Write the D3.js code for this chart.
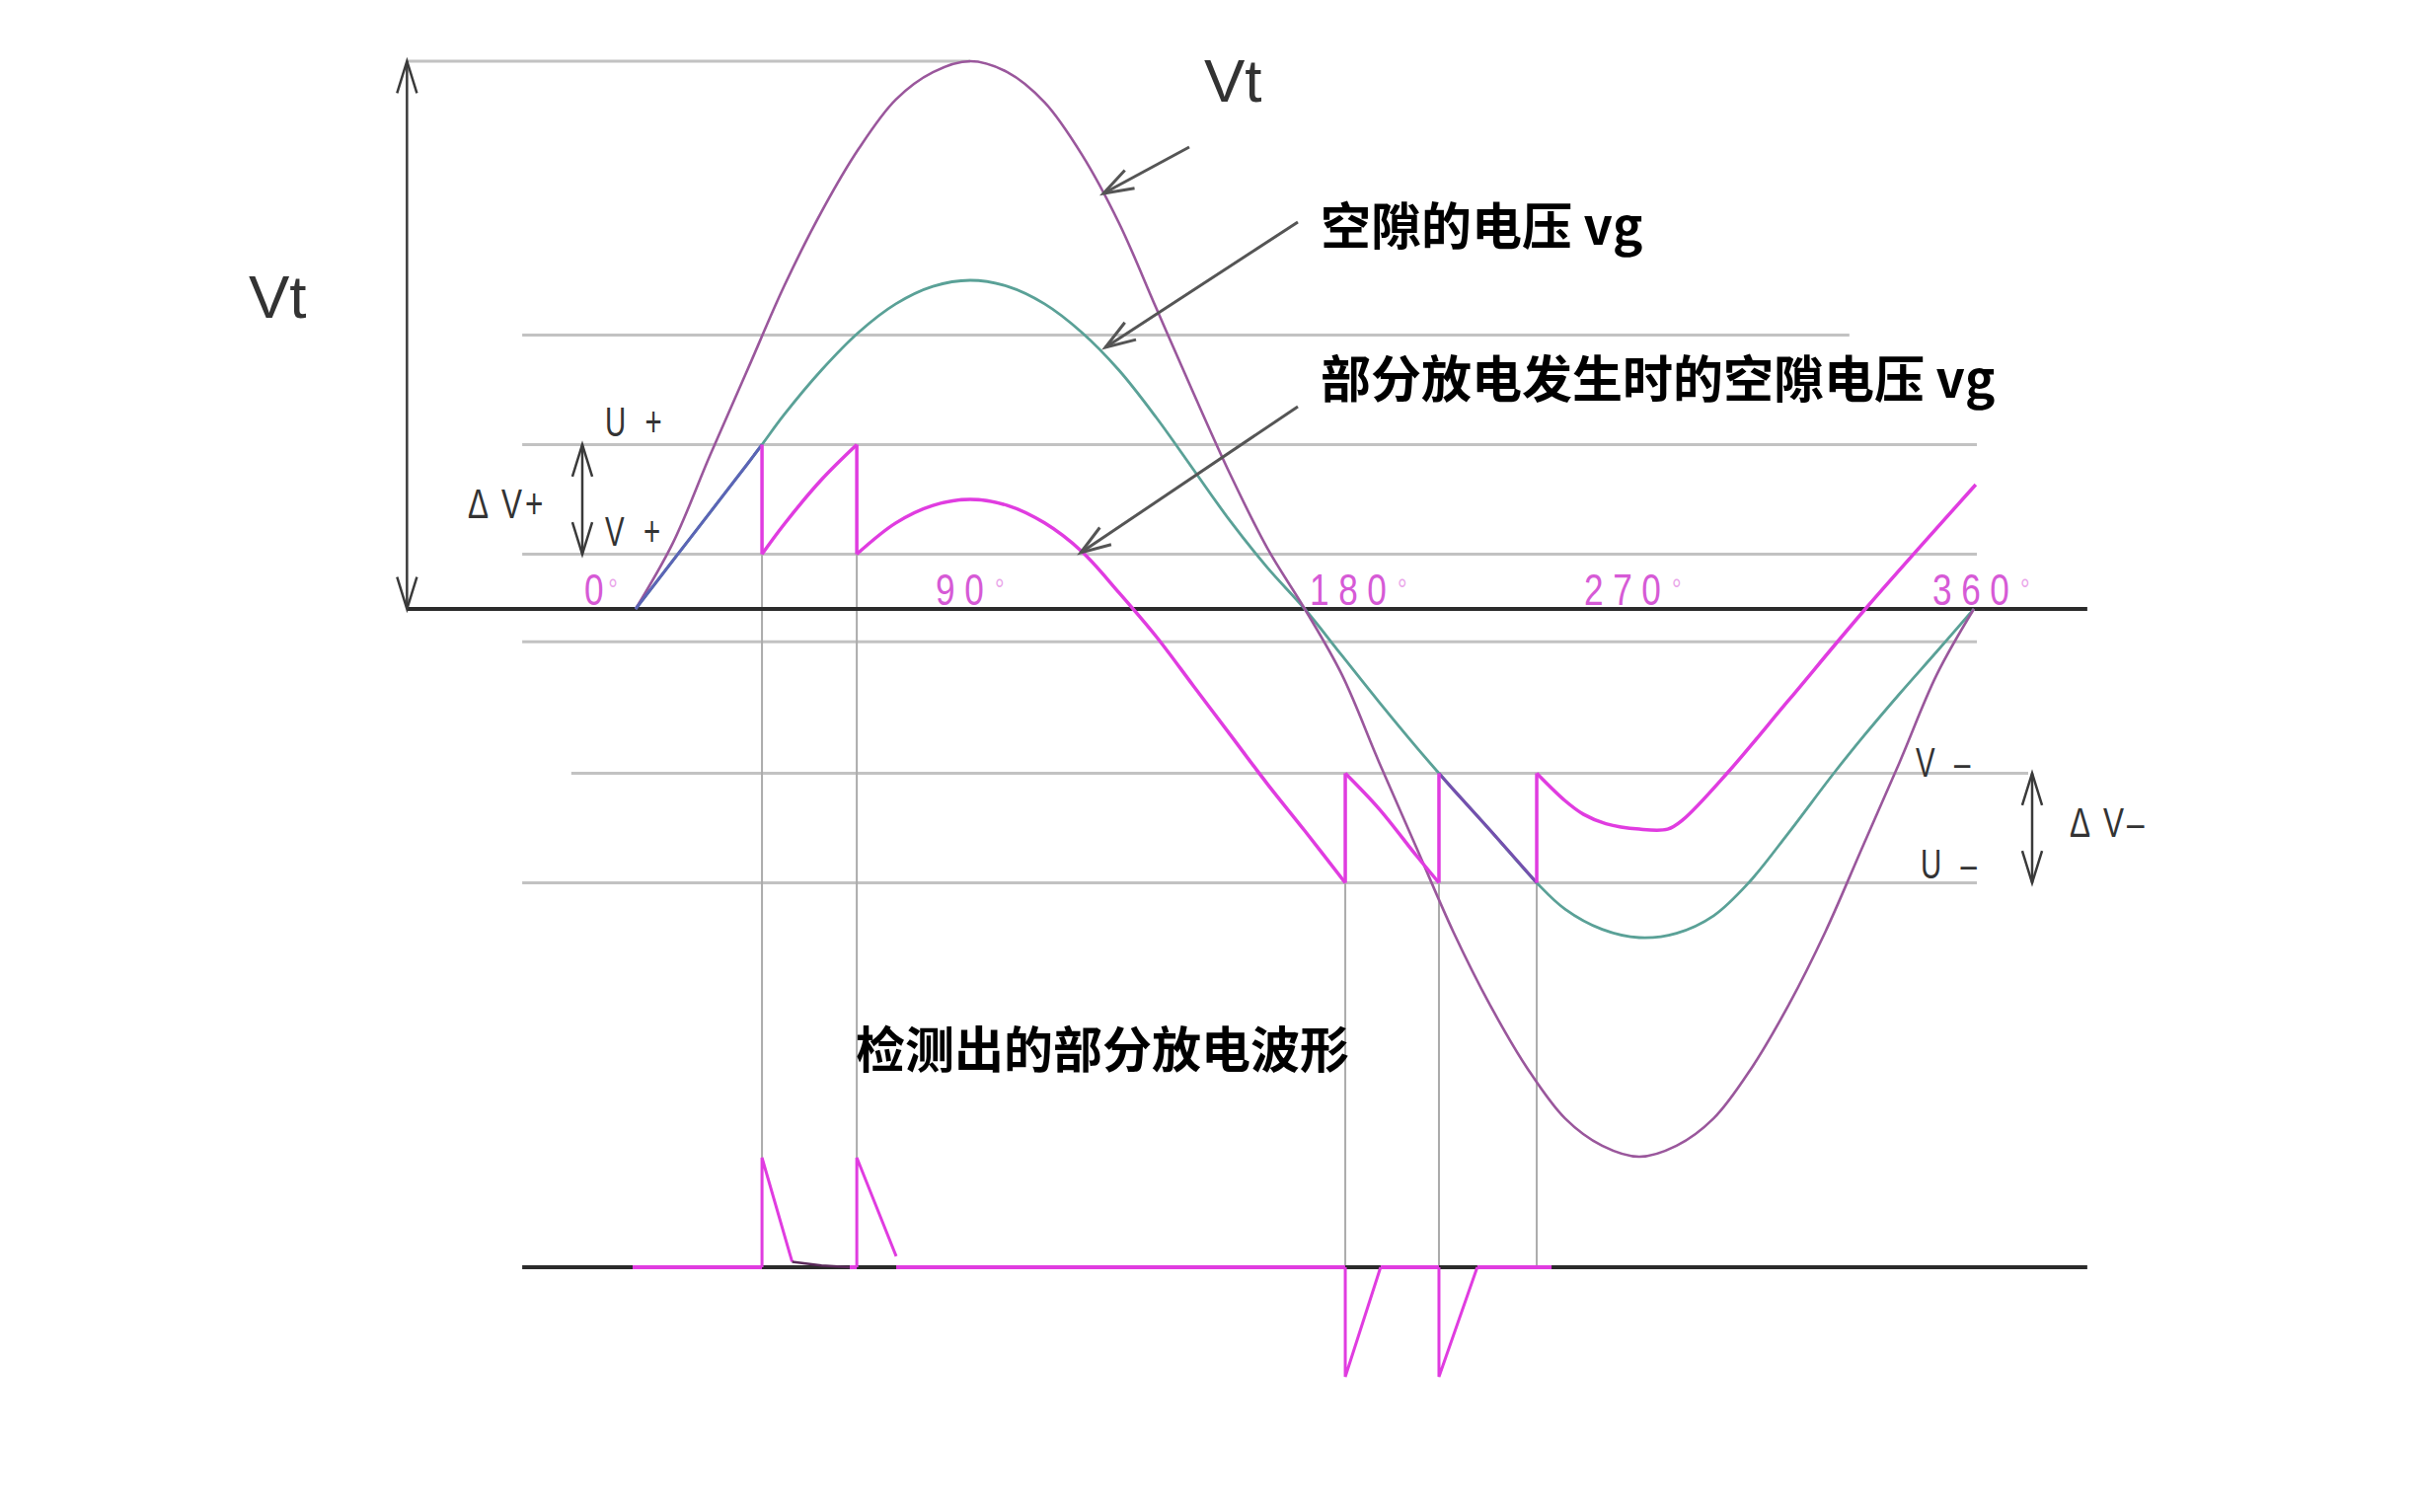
<!DOCTYPE html>
<html><head><meta charset="utf-8">
<script src="https://cdn.jsdelivr.net/npm/d3@7"></script>
<style>html,body{margin:0;padding:0;background:#fff;} svg{display:block}</style>
</head><body>
<svg id="chart" width="2453" height="1532"></svg>
<script>
// ---------------- DATA ----------------
const phaseTicks = [0, 90, 180, 270, 360];
const phaseTickLabels = ["0", "90", "180", "270", "360"];

// reference levels (units: Vt peak = 10)
const levelValues = [5, 3, 1, -0.6, -3, -5];
const Uplus = 3, Vplus = 1, Vminus = -3, Uminus = -5;

// applied voltage Vt
const vtDeg = [0,10,20,30,40,50,60,70,80,90,100,110,120,130,140,150,160,170,180,
               190,200,210,220,230,240,250,260,270,280,290,300,310,320,330,340,350,360];
const vtVal = [0,1.2,2.8,4.35,5.9,7.25,8.4,9.3,9.8,10,9.8,9.25,8.3,7.05,5.5,3.95,2.45,1.1,0,
               -1.2,-2.8,-4.35,-5.9,-7.25,-8.4,-9.3,-9.8,-10,-9.8,-9.3,-8.4,-7.25,-5.9,-4.35,-2.8,-1.2,0];

// gap voltage vg without discharge
const vgDeg = [0,10,20,30,34,40,50,60,70,80,90,100,110,120,130,140,150,160,170,180,
               190,200,210,216.1,220,230,242.4,250,260,270,280,290,299.4,310,322.3,330,340,350,360];
const vgVal = [0,0.88,1.76,2.64,3.0,3.55,4.36,5.05,5.57,5.89,6.0,5.89,5.57,5.05,4.36,3.5,2.55,1.6,0.75,0,
               -0.85,-1.7,-2.52,-3.0,-3.3,-4.05,-5.0,-5.48,-5.85,-6.0,-5.92,-5.6,-5.0,-4.1,-3.0,-2.35,-1.55,-0.78,0];

// gap voltage with partial discharges (segments between discharges)
const pdSeg1 = [[0,0],[10,0.88],[20,1.76],[30,2.64],[34,3.0]];
const pdSeg2 = [[34,1.0],[40,1.55],[50,2.36],[59.5,3.0]];
const pdSeg3 = [[59.5,1.0],[70,1.57],[80,1.89],[90,2.0],[100,1.89],[110,1.57],[120,1.05],[130,0.3],
                [140,-0.5],[150,-1.4],[160,-2.3],[170,-3.2],[180,-4.05],[190.9,-5.0]];
const pdSeg4 = [[190.9,-3.0],[200,-3.65],[210,-4.5],[216.1,-5.0]];
const pdSeg5 = [[216.1,-3.0],[220,-3.3],[230,-4.05],[242.4,-5.0]];
const pdSeg6 = [[242.4,-3.0],[250,-3.5],[255,-3.75],[261,-3.92],[270,-4.02],[277.6,-4.02],[281.7,-3.85],
                [293.6,-3.0],[310,-1.68],[330.8,0],[360.5,2.27]];

const posDischargeDeg = [34, 59.5];
const negDischargeDeg = [190.9, 216.1, 242.4];

// detected partial-discharge pulses (bottom trace)
const pulse1 = [[34,0],[34,2],[42.1,0.1]];
const pulse1Tail = [[42.1,0.1],[50,0.03],[57.6,0]];
const pulse2 = [[59.5,0],[59.5,2],[70.1,0.2]];
const pulse3 = [[190.9,0],[190.9,-2],[200.4,0]];
const pulse4 = [[216.1,0],[216.1,-2],[226.4,0]];
const traceMagentaRanges = [[-0.8,34],[57.6,59.5],[70.1,190.9],[200.4,216.1],[226.4,246.4]];

// ---------------- LAYOUT ----------------
const svg = d3.select("#chart");
const x = d3.scaleLinear([0,360],[644,2000]);
const y = d3.scaleLinear([-10,10],[1172,62]);
const y2 = d3.scaleLinear([-2,2],[1395,1173]);

const C = {
  purple:"#9a579c", teal:"#5aa197", mag:"#e03ce0", overlap1:"#5b64b6", overlap2:"#7450ae",
  grid:"#c2c2c2", vgrid:"#ababab", axis:"#2b2b2b", text:"#333", deg:"#d65ad6", degSign:"#eaa6ea"
};
const levelExtent = {"5":[-30.5,326.5],"3":[-30.5,360.8],"1":[-30.5,360.8],"-0.6":[-30.5,360.8],"-3":[-17.3,374.6],"-5":[-30.5,360.8]};

const gLines = svg.append("g");
levelValues.forEach(v=>{
  const e = levelExtent[String(v)];
  gLines.append("line").attr("x1",x(e[0])).attr("x2",x(e[1])).attr("y1",y(v)).attr("y2",y(v))
    .attr("stroke",C.grid).attr("stroke-width",3);
});
gLines.append("line").attr("x1",x(-61.5)).attr("x2",x(90)).attr("y1",y(10)).attr("y2",y(10))
  .attr("stroke",C.grid).attr("stroke-width",3);

posDischargeDeg.forEach(d=>{
  gLines.append("line").attr("x1",x(d)).attr("x2",x(d)).attr("y1",y(Vplus)).attr("y2",y2(0))
    .attr("stroke",C.vgrid).attr("stroke-width",2);
});
negDischargeDeg.forEach(d=>{
  gLines.append("line").attr("x1",x(d)).attr("x2",x(d)).attr("y1",y(Uminus)).attr("y2",y2(0))
    .attr("stroke",C.vgrid).attr("stroke-width",2);
});

svg.append("line").attr("x1",x(-61.5)).attr("x2",x(390.5)).attr("y1",y(0)).attr("y2",y(0))
  .attr("stroke",C.axis).attr("stroke-width",4);
svg.append("line").attr("x1",x(-30.5)).attr("x2",x(390.5)).attr("y1",y2(0)).attr("y2",y2(0))
  .attr("stroke",C.axis).attr("stroke-width",4);

const lineC = d3.line().x(d=>x(d[0])).y(d=>y(d[1])).curve(d3.curveCatmullRom.alpha(0.5));
const lineL = d3.line().x(d=>x(d[0])).y(d=>y(d[1]));
const lineB = d3.line().x(d=>x(d[0])).y(d=>y2(d[1]));

const vtData = vtDeg.map((d,i)=>[d,vtVal[i]]);
const vgData = vgDeg.map((d,i)=>[d,vgVal[i]]);

svg.append("path").attr("d",lineC(vgData)).attr("fill","none").attr("stroke",C.teal).attr("stroke-width",2.8);
svg.append("path").attr("d",lineC(vtData)).attr("fill","none").attr("stroke",C.purple).attr("stroke-width",2.6);

const gPD = svg.append("g").attr("fill","none").attr("stroke-width",3.5).attr("stroke-linejoin","round");
[pdSeg2,pdSeg3,pdSeg4,pdSeg6].forEach(s=>gPD.append("path").attr("d",lineC(s)).attr("stroke",C.mag));
gPD.append("path").attr("d",lineL(pdSeg1)).attr("stroke",C.overlap1).attr("stroke-width",3);
gPD.append("path").attr("d",lineC(pdSeg5)).attr("stroke",C.overlap2).attr("stroke-width",3.2);
posDischargeDeg.forEach(d=>gPD.append("path").attr("d",lineL([[d,Uplus],[d,Vplus]])).attr("stroke",C.mag));
negDischargeDeg.forEach(d=>gPD.append("path").attr("d",lineL([[d,Uminus],[d,Vminus]])).attr("stroke",C.mag));

const gB = svg.append("g").attr("fill","none").attr("stroke",C.mag).attr("stroke-width",3);
traceMagentaRanges.forEach(r=>gB.append("path").attr("d",lineB([[r[0],0],[r[1],0]])).attr("stroke-width",4));
[pulse1,pulse2,pulse3,pulse4].forEach(p=>gB.append("path").attr("d",lineB(p)));
gB.append("path").attr("d",lineB(pulse1Tail)).attr("stroke","#5a2a5a").attr("stroke-width",2.5);

// ---------- arrows ----------
function chevron(g, tx, ty, ang, len, spread, color, w){
  const a1 = ang+Math.PI-spread, a2 = ang+Math.PI+spread;
  g.append("path").attr("d",`M${tx+len*Math.cos(a1)},${ty+len*Math.sin(a1)}L${tx},${ty}L${tx+len*Math.cos(a2)},${ty+len*Math.sin(a2)}`)
   .attr("fill","none").attr("stroke",color).attr("stroke-width",w).attr("stroke-linejoin","miter");
}
function dblArrow(xp, ya, yb, color){
  const g = svg.append("g");
  g.append("line").attr("x1",xp).attr("x2",xp).attr("y1",ya).attr("y2",yb).attr("stroke",color).attr("stroke-width",2.5);
  chevron(g, xp, ya, -Math.PI/2, 34, 0.3, color, 2.5);
  chevron(g, xp, yb, Math.PI/2, 34, 0.3, color, 2.5);
}
dblArrow(x(-61.5), y(10), y(0), "#3a3a3a");
dblArrow(590, y(Uplus), y(Vplus), "#3a3a3a");
dblArrow(2059, y(Vminus), y(Uminus), "#3a3a3a");

function pointer(x1,y1,x2,y2){
  const g = svg.append("g");
  g.append("line").attr("x1",x1).attr("y1",y1).attr("x2",x2).attr("y2",y2).attr("stroke","#555").attr("stroke-width",3);
  chevron(g, x2, y2, Math.atan2(y2-y1,x2-x1), 32, 0.33, "#555", 3);
}
pointer(1205,149,1118,196);
pointer(1315,225,1120,352);
pointer(1315,412,1095,560);

// ---------- texts ----------
const t = svg.append("g");
t.append("text").attr("x",252).attr("y",322).attr("font-family","Liberation Sans, Arial, sans-serif")
  .attr("font-size",62).attr("fill",C.text).text("Vt");
t.append("text").attr("x",1220).attr("y",103).attr("font-family","Liberation Sans, Arial, sans-serif")
  .attr("font-size",62).attr("fill",C.text).text("Vt");

const cjk = "'Noto Sans CJK SC', 'Noto Sans', sans-serif";
t.append("text").attr("x",1338).attr("y",248).attr("font-family",cjk).attr("font-weight",700)
  .attr("font-size",51).attr("fill","#000").text("空隙的电压 vg");
t.append("text").attr("x",1338).attr("y",403).attr("font-family",cjk).attr("font-weight",700)
  .attr("font-size",51).attr("fill","#000").text("部分放电发生时的空隙电压 vg");
t.append("text").attr("x",867).attr("y",1082).attr("font-family",cjk).attr("font-weight",700)
  .attr("font-size",50).attr("fill","#000").text("检测出的部分放电波形");

function narrow(str, px, py, size, sx, ls, color){
  const g = t.append("g").attr("transform",`translate(${px},${py}) scale(${sx},1)`);
  return g.append("text").attr("x",0).attr("y",0).attr("font-family","Liberation Sans, Arial, sans-serif")
    .attr("font-size",size).attr("letter-spacing",ls).attr("fill",color).attr("xml:space","preserve").text(str);
}
narrow("U +", 613, 442, 42, 0.7, 8, C.text);
narrow("V +", 613, 553, 42, 0.7, 8, C.text);
narrow("Δ V+", 474, 525, 42, 0.75, 4, C.text);
narrow("V –", 1941, 787, 42, 0.7, 8, C.text);
narrow("U –", 1946, 890, 42, 0.7, 8, C.text);
narrow("Δ V–", 2097, 848, 42, 0.75, 4, C.text);

const degDx = [-52, -35, 5, -56, -42];
phaseTicks.forEach((d,i)=>{
  const g = t.append("g").attr("transform",`translate(${x(d)+degDx[i]},613) scale(0.8,1)`);
  const tx = g.append("text").attr("font-family","Liberation Sans, Arial, sans-serif").attr("font-size",44)
    .attr("fill",C.deg);
  tx.append("tspan").attr("letter-spacing",i===0? 4 : 12).text(phaseTickLabels[i]);
  tx.append("tspan").attr("font-size",30).attr("dy",-6).attr("dx",2).attr("fill",C.degSign).text("°");
});
</script>
</body></html>
